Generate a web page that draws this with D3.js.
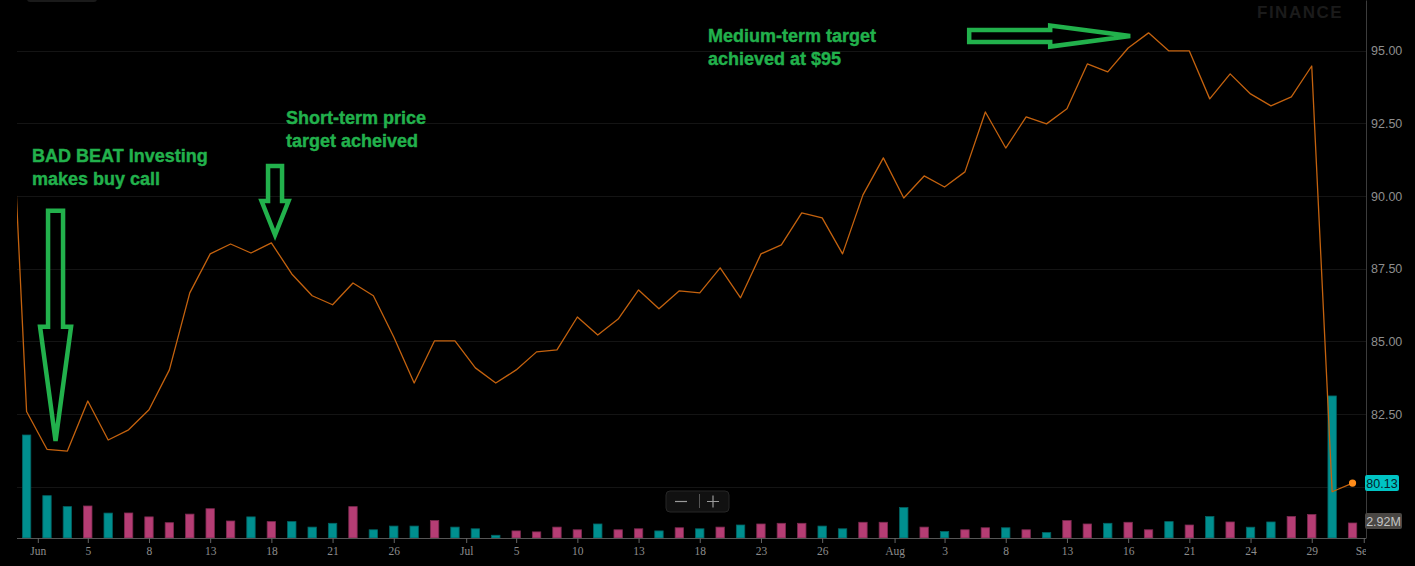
<!DOCTYPE html>
<html>
<head>
<meta charset="utf-8">
<title>Price and volume</title>
<script src="https://cdn.jsdelivr.net/npm/d3@7"></script>
<style>
  * { margin: 0; padding: 0; }
  body { background: #000; overflow: hidden; }
  #chart { position: relative; width: 1415px; height: 566px; }
</style>
</head>
<body>
<div id="chart"></div>
<script>
// trading days 2018-05-30 .. 2018-09-04 (weekends and market holidays skipped)
var firstDay = [2018, 4, 30];
var lastDay = [2018, 8, 4];
var holidays = ['2018-07-04', '2018-09-03'];

// closing prices, one per trading day from May 30 (first one is off the left edge)
var closes = [97.43, 82.59, 81.29, 81.23, 82.95, 81.61, 81.96, 82.65, 84.02, 86.67,
  88.01, 88.35, 88.04, 88.39, 87.32, 86.57, 86.26, 87.01, 86.57, 85.15,
  83.57, 85.02, 85.02, 84.09, 83.57, 84.02, 84.64, 84.71, 85.84, 85.22,
  85.77, 86.77, 86.12, 86.74, 86.67, 87.53, 86.50, 88.01, 88.32, 89.42,
  89.25, 88.01, 90.04, 91.31, 89.93, 90.69, 90.31, 90.83, 92.89, 91.65,
  92.72, 92.48, 93.00, 94.54, 94.27, 95.09, 95.61, 94.99, 94.99, 93.34,
  94.20, 93.51, 93.10, 93.41, 94.47, 79.83, 80.13];

// volume in millions, one per trading day from May 31
var volumes = [20.05, 8.24, 6.11, 6.23, 4.85, 4.87, 4.11, 2.98, 4.65, 5.70,
  3.31, 4.11, 3.19, 3.19, 2.12, 2.86, 6.11, 1.60, 2.32, 2.32,
  3.39, 2.12, 1.79, 0.53, 1.38, 1.19, 2.12, 1.60, 2.73, 1.60,
  1.79, 1.38, 1.99, 1.79, 2.12, 2.53, 2.73, 2.86, 2.86, 2.32,
  1.79, 3.06, 3.06, 5.92, 2.12, 1.27, 1.60, 1.99, 1.99, 1.60,
  1.05, 3.39, 2.73, 2.86, 3.06, 1.60, 3.19, 2.53, 4.19, 3.12,
  2.10, 3.12, 4.19, 4.58, 27.65, 2.92];

// bar direction: u = up day (teal), d = down day (magenta)
var barDir = ['u','u','u','d','u','d','d','d','d','d',
  'd','u','d','u','u','u','d','u','u','u',
  'd','u','u','u','d','d','d','d','u','d',
  'd','u','d','u','d','u','d','d','d','u',
  'u','d','d','u','d','u','d','d','u','d',
  'u','d','d','u','d','d','u','d','u','d',
  'u','u','d','d','u','d'];

var priceTicks = [80, 82.5, 85, 87.5, 90, 92.5, 95];
var dayTickDates = ['2018-06-05','2018-06-08','2018-06-13','2018-06-18','2018-06-21','2018-06-26',
  '2018-07-05','2018-07-10','2018-07-13','2018-07-18','2018-07-23','2018-07-26',
  '2018-08-03','2018-08-08','2018-08-13','2018-08-16','2018-08-21','2018-08-24','2018-08-29'];
var monthTickDates = ['2018-06-01', '2018-07-02', '2018-08-01', '2018-09-04'];
var monthLabels = ['Jun', 'Jul', 'Aug', 'Sep'];

var lastPrice = '80.13';
var lastVolume = '2.92M';

var notes = [
  {lines: ['BAD BEAT Investing', 'makes buy call'], x: 32, y: 162},
  {lines: ['Short-term price', 'target acheived'], x: 286, y: 124},
  {lines: ['Medium-term target', 'achieved at $95'], x: 708, y: 42}
];
// arrow tips in data space (day position, price), sizes in px
var arrows = [
  {pos: 2.42, price: 81.58, dir: 'down', len: 230, shaft: 7.5, head: 15.5, headLen: 114},
  {pos: 13.18, price: 88.66, dir: 'down', len: 69, shaft: 7, head: 13.5, headLen: 34},
  {pos: 55.1, price: 95.5, dir: 'right', len: 161, shaft: 6, head: 10.5, headLen: 80}
];

// ---- build trading day list ----
var fmt = d3.utcFormat('%Y-%m-%d');
var days = [];
for (var d = new Date(Date.UTC(firstDay[0], firstDay[1], firstDay[2]));
     d <= new Date(Date.UTC(lastDay[0], lastDay[1], lastDay[2]));
     d.setUTCDate(d.getUTCDate() + 1)) {
  var wd = d.getUTCDay();
  var s = fmt(d);
  if (wd === 0 || wd === 6 || holidays.indexOf(s) >= 0) continue;
  days.push(s);
}
var posOf = function(s) { return days.indexOf(s); };

var W = 1415, H = 566;
var plotL = 17, plotR = 1366, volBase = 538;

var svg = d3.select('#chart').append('svg')
    .attr('width', W).attr('height', H)
    .style('background', '#000');

var x = d3.scaleLinear().domain([0.53, 66.66]).range([plotL, plotR]);
var y = d3.scaleLinear().domain([78.24, 96.74]).range([volBase, 0]);
var yv = d3.scaleLinear().domain([0, 29.2]).range([volBase, volBase - 150]);

var defs = svg.append('defs');
defs.append('clipPath').attr('id', 'plotclip')
  .append('rect').attr('x', plotL).attr('y', 0).attr('width', plotR - plotL).attr('height', volBase);
// used inside the translated axis group, so local coordinates
defs.append('clipPath').attr('id', 'axisclip')
  .append('rect').attr('x', 0).attr('y', -2).attr('width', plotR).attr('height', H - volBase + 2);

// faint bits of the page chrome at the top
svg.append('rect').attr('x', 27).attr('y', -8).attr('width', 70).attr('height', 10)
  .attr('rx', 3).attr('fill', '#1a1a1a');
svg.append('text').attr('x', 1257).attr('y', 18)
  .attr('font-family', 'Liberation Sans, Arial, sans-serif').attr('font-size', 17)
  .attr('font-weight', 'bold')
  .attr('letter-spacing', 1.5).attr('fill', '#1b1b1b').text('FINANCE');

// grid
svg.append('g').selectAll('line').data(priceTicks).enter().append('line')
  .attr('x1', plotL).attr('x2', plotR)
  .attr('y1', function(v) { return Math.round(y(v)) + 0.5; })
  .attr('y2', function(v) { return Math.round(y(v)) + 0.5; })
  .attr('stroke', '#141414').attr('stroke-width', 1);

// volume bars
var bw = 8.4;
svg.append('g').attr('clip-path', 'url(#plotclip)')
  .selectAll('rect').data(volumes).enter().append('rect')
  .attr('x', function(v, i) { return x(i + 1) - bw / 2; })
  .attr('y', function(v) { return yv(v); })
  .attr('width', bw)
  .attr('height', function(v) { return volBase - yv(v); })
  .attr('fill', function(v, i) { return barDir[i] === 'u' ? '#008f8f' : '#b53d74'; })
  .attr('stroke', function(v, i) { return barDir[i] === 'u' ? '#006363' : '#7d2a50'; })
  .attr('stroke-width', 0.8);

// price line
var line = d3.line()
  .x(function(v, i) { return x(i); })
  .y(function(v) { return y(v); });
svg.append('path').datum(closes)
  .attr('clip-path', 'url(#plotclip)')
  .attr('d', line)
  .attr('fill', 'none')
  .attr('stroke', '#c4620e')
  .attr('stroke-width', 1.3)
  .attr('stroke-linejoin', 'round');

svg.append('circle')
  .attr('cx', x(closes.length - 1)).attr('cy', y(closes[closes.length - 1]))
  .attr('r', 3.6).attr('fill', '#ff8c1a');

// right price axis (the 80.00 label sits under the last-price tag)
var yAxis = d3.axisRight(y).tickValues(priceTicks.slice(1)).tickSize(0).tickPadding(5)
  .tickFormat(d3.format('.2f'));
var ya = svg.append('g').attr('transform', 'translate(' + plotR + ',0)').call(yAxis);
ya.select('.domain').attr('stroke', '#3c3c3c');
ya.selectAll('text').attr('fill', '#8e8e8e')
  .attr('font-family', 'Liberation Sans, Arial, sans-serif').attr('font-size', 12.5);

// bottom time axis
var tickPos = [], tickText = [];
dayTickDates.forEach(function(s) { tickPos.push(posOf(s)); tickText.push(String(+s.slice(8))); });
monthTickDates.forEach(function(s, i) { tickPos.push(posOf(s) - 0.45); tickText.push(monthLabels[i]); });
var xAxis = d3.axisBottom(x).tickValues(tickPos).tickSize(5).tickPadding(4)
  .tickFormat(function(p) { return tickText[tickPos.indexOf(p)]; });
var xa = svg.append('g').attr('transform', 'translate(0,' + volBase + ')')
  .attr('clip-path', 'url(#axisclip)').call(xAxis);
xa.select('.domain').attr('stroke', '#555').attr('d', 'M' + plotL + ',0.5H' + plotR);
xa.selectAll('.tick line').attr('stroke', '#666');
xa.selectAll('text').attr('fill', '#8c8c8c')
  .attr('font-family', 'Liberation Serif, Times New Roman, serif').attr('font-size', 11.5);

// last value tags
var tagFont = 'Liberation Sans, Arial, sans-serif';
var py = y(+lastPrice);
svg.append('rect').attr('x', plotR - 1).attr('y', py - 8).attr('width', 34).attr('height', 16)
  .attr('rx', 2).attr('fill', '#00c4c4');
svg.append('text').attr('x', plotR + 16).attr('y', py + 4.5).attr('text-anchor', 'middle')
  .attr('font-family', tagFont).attr('font-size', 12.5).attr('fill', '#06232a').text(lastPrice);
var vy = yv(2.92) - 2;
svg.append('rect').attr('x', plotR - 1).attr('y', vy - 8).attr('width', 37).attr('height', 16)
  .attr('rx', 2).attr('fill', '#4a4744');
svg.append('text').attr('x', plotR + 17.5).attr('y', vy + 4.5).attr('text-anchor', 'middle')
  .attr('font-family', tagFont).attr('font-size', 12.5).attr('fill', '#c4c4c4').text(lastVolume);

// zoom control
var zc = svg.append('g');
zc.append('rect').attr('x', 666).attr('y', 491).attr('width', 63).attr('height', 21)
  .attr('rx', 4).attr('fill', '#111').attr('stroke', '#262626');
zc.append('line').attr('x1', 675).attr('x2', 687).attr('y1', 501.5).attr('y2', 501.5)
  .attr('stroke', '#9a9a9a').attr('stroke-width', 1.2);
zc.append('line').attr('x1', 699.5).attr('x2', 699.5).attr('y1', 494).attr('y2', 508)
  .attr('stroke', '#555');
zc.append('path').attr('d', 'M707,501.5H719M713,495.5V507.5')
  .attr('stroke', '#9a9a9a').attr('stroke-width', 1.2);

// annotations
var green = '#22b14c';
notes.forEach(function(n) {
  var t = svg.append('text').attr('x', n.x).attr('y', n.y)
    .attr('font-family', 'Liberation Sans, Arial, sans-serif')
    .attr('font-weight', 'bold').attr('font-size', 18).attr('fill', green)
    .attr('stroke', green).attr('stroke-width', 0.4);
  n.lines.forEach(function(l, i) {
    t.append('tspan').attr('x', n.x).attr('dy', i === 0 ? 0 : 22.5).text(l);
  });
});

var arrowPath = function(a) {
  var tx = x(a.pos), ty = y(a.price);
  var pts;
  if (a.dir === 'down') {
    pts = [[tx - a.shaft, ty - a.len], [tx + a.shaft, ty - a.len], [tx + a.shaft, ty - a.headLen],
           [tx + a.head, ty - a.headLen], [tx, ty], [tx - a.head, ty - a.headLen],
           [tx - a.shaft, ty - a.headLen]];
  } else {
    pts = [[tx - a.len, ty - a.shaft], [tx - a.headLen, ty - a.shaft], [tx - a.headLen, ty - a.head],
           [tx, ty], [tx - a.headLen, ty + a.head], [tx - a.headLen, ty + a.shaft],
           [tx - a.len, ty + a.shaft]];
  }
  return 'M' + pts.join('L') + 'Z';
};
svg.append('g').selectAll('path').data(arrows).enter().append('path')
  .attr('d', arrowPath)
  .attr('fill', 'none')
  .attr('stroke', green)
  .attr('stroke-width', 4.5)
  .attr('stroke-linejoin', 'miter');
</script>
</body>
</html>
